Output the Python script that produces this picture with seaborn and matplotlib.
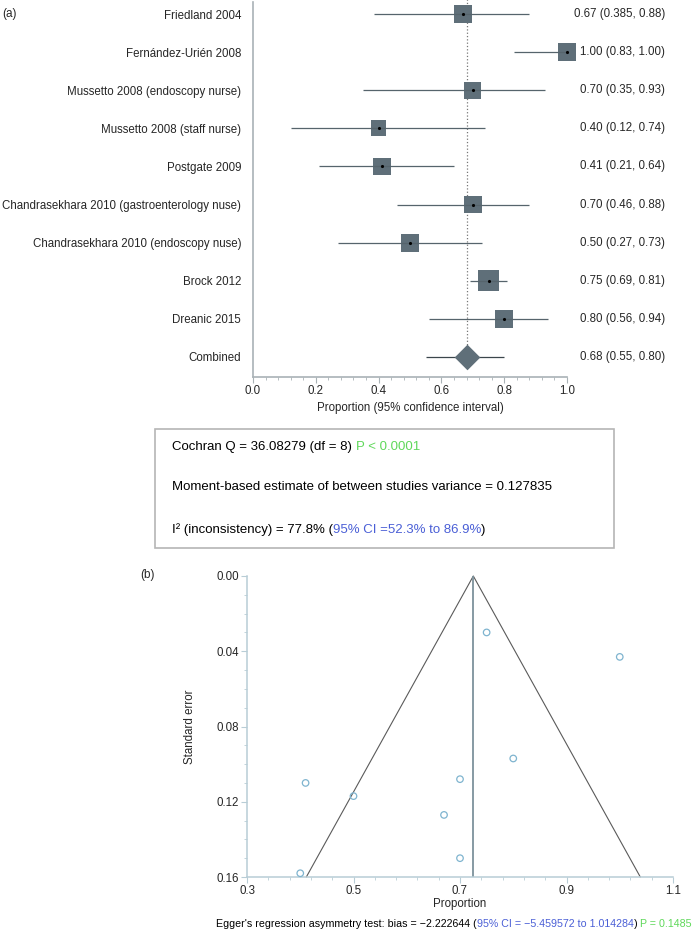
import numpy as np
import pandas as pd
import seaborn as sns
import matplotlib.pyplot as plt
from matplotlib.ticker import MultipleLocator, FixedLocator, FormatStrFormatter
from matplotlib.patches import Rectangle

# ---- data ----
studies = ["Friedland 2004", "Fernández-Urién 2008", "Mussetto 2008 (endoscopy nurse)",
           "Mussetto 2008 (staff nurse)", "Postgate 2009",
           "Chandrasekhara 2010 (gastroenterology nuse)",
           "Chandrasekhara 2010 (endoscopy nuse)", "Brock 2012", "Dreanic 2015"]
estimate = [0.67, 1.00, 0.70, 0.40, 0.41, 0.70, 0.50, 0.75, 0.80]
ci_low = [0.385, 0.83, 0.35, 0.12, 0.21, 0.46, 0.27, 0.69, 0.56]
ci_high = [0.88, 1.00, 0.93, 0.74, 0.64, 0.88, 0.73, 0.81, 0.94]
weight = [11.5, 11.5, 10.2, 9.0, 11.5, 11.5, 11.5, 15.9, 11.5]
combined = [0.68, 0.55, 0.80]

funnel_prop = [0.67, 1.00, 0.70, 0.40, 0.41, 0.70, 0.50, 0.75, 0.80]
funnel_se = [0.127, 0.043, 0.150, 0.158, 0.110, 0.108, 0.117, 0.030, 0.097]
funnel_pooled = 0.725

sns.set_style("white")
plt.rcParams['font.family'] = ['Liberation Sans', 'DejaVu Sans']

fig = plt.figure(figsize=(6.96, 9.31), dpi=100)
W, H = 696, 931


def fmt(v):
    s = f"{v:.3f}"
    return s[:-1] if s.endswith('0') else s


spine_col = '#a9b2b6'
line_col = '#56646c'
box_col = '#5f6f79'

# ---- (a) forest plot ----
ax1 = fig.add_axes([253 / W, 1 - 377 / H, 314 / W, 375 / H])
rows = np.arange(len(studies))
df = pd.DataFrame({'est': estimate, 'row': rows, 'w': weight})

ax1.hlines(rows, ci_low, ci_high, color=line_col, lw=0.9, zorder=4)
ax1.hlines(len(studies), combined[1], combined[2], color='#3b464c', lw=0.9, zorder=2)
ax1.plot([combined[0], combined[0]], [-0.4, len(studies)], ls=':', color='#777777',
         lw=0.9, zorder=1, clip_on=False)
sns.scatterplot(data=df, x='est', y='row', size='w', sizes=(0, 14.3 * 15.9),
                size_norm=(0, 15.9), marker='s', color=box_col, linewidth=0,
                legend=False, ax=ax1, zorder=3, clip_on=False)
ax1.plot(estimate, rows, 'k.', ms=2.5, zorder=5, clip_on=False)
sns.scatterplot(x=[combined[0]], y=[len(studies)], marker='D', s=170, color=box_col,
                linewidth=0, ax=ax1, zorder=3)

for i in rows:
    ax1.text(1.312, i, f"{estimate[i]:.2f} ({fmt(ci_low[i])}, {fmt(ci_high[i])})",
             ha='right', va='center', fontsize=8.3, clip_on=False)
ax1.text(1.312, len(studies), f"{combined[0]:.2f} ({combined[1]:.2f}, {combined[2]:.2f})",
         ha='right', va='center', fontsize=8.3, clip_on=False)

ax1.set_xlim(0, 1)
ax1.set_ylim(9.525, -0.315)
ax1.set_yticks(list(rows) + [len(studies)])
ax1.set_yticklabels(studies + ['Combined'], fontsize=8.3)
ax1.tick_params(axis='y', length=0, pad=8.6)
ax1.xaxis.set_major_locator(MultipleLocator(0.2))
ax1.xaxis.set_minor_locator(MultipleLocator(0.04))
ax1.xaxis.set_major_formatter(FormatStrFormatter('%.1f'))
ax1.tick_params(axis='x', which='major', direction='out', length=4, color=spine_col,
                labelsize=8.3, pad=2, bottom=True)
ax1.tick_params(axis='x', which='minor', direction='out', length=2.5, color=spine_col,
                bottom=True)
for s in ['top', 'right']:
    ax1.spines[s].set_visible(False)
for s in ['left', 'bottom']:
    ax1.spines[s].set_color(spine_col)
    ax1.spines[s].set_linewidth(1.2)
ax1.set_ylabel('')
ax1.set_xlabel('Proportion (95% confidence interval)', fontsize=8.3)
ax1.xaxis.set_label_coords(0.5, (377 - 408) / 375)
ax1.xaxis.label.set_va('center')
fig.text(2 / W, 1 - 14 / H, '(a)', fontsize=8.5, va='center')


def chain(x, y, parts, size):
    t = fig.text(x, y, parts[0][0], color=parts[0][1], fontsize=size, va='center')
    for txt, col in parts[1:]:
        t = ax1.annotate(txt, xy=(1, 0.5), xycoords=t, color=col, fontsize=size,
                         va='center', ha='left', annotation_clip=False)


# ---- heterogeneity box ----
fig.add_artist(Rectangle((155 / W, 1 - 548 / H), 459 / W, 119 / H,
                         transform=fig.transFigure, fill=False, ec='#b5b5b5', lw=1.2))
green = '#5fd85a'
blue = '#4a5fd6'
chain(172 / W, 1 - 447 / H, [("Cochran Q = 36.08279 (df = 8) ", 'black'),
                             ("P < 0.0001", green)], 9.5)
chain(172 / W, 1 - 487 / H, [("Moment-based estimate of between studies variance = 0.127835",
                              'black')], 9.5)
chain(172 / W, 1 - 530 / H, [("I² (inconsistency) = 77.8% (", 'black'),
                             ("95% CI =52.3% to 86.9%", blue), (")", 'black')], 9.5)

# ---- (b) funnel plot ----
ax2 = fig.add_axes([247 / W, 1 - 877 / H, 426 / W, 301 / H])
ymax = 0.16
ax2.plot([funnel_pooled - 1.96 * ymax, funnel_pooled, funnel_pooled + 1.96 * ymax],
         [ymax, 0, ymax], color='#5a5a5a', lw=0.8, clip_on=False)
ax2.plot([funnel_pooled, funnel_pooled], [0, ymax], color='#7d929c', lw=1.3)
sns.scatterplot(x=funnel_prop, y=funnel_se, marker='o', s=22, facecolor='none',
                edgecolor='#7fb4cf', linewidth=0.9, ax=ax2, zorder=3, clip_on=False)
ax2.set_xlim(0.3, 1.1)
ax2.set_ylim(ymax, 0)
ax2.set_xticks([0.3, 0.5, 0.7, 0.9, 1.1])
ax2.xaxis.set_minor_locator(FixedLocator(np.arange(0.3, 1.1001, 0.04)))
ax2.set_yticks([0.0, 0.04, 0.08, 0.12, 0.16])
ax2.yaxis.set_minor_locator(MultipleLocator(0.01))
ax2.xaxis.set_major_formatter(FormatStrFormatter('%.1f'))
ax2.yaxis.set_major_formatter(FormatStrFormatter('%.2f'))
fcol = '#b8cdd6'
ax2.tick_params(which='major', direction='out', length=4, color=fcol, labelsize=8.3,
                pad=2, left=True, bottom=True)
ax2.tick_params(which='minor', direction='out', length=2.5, color=fcol,
                left=True, bottom=True)
for s in ['top', 'right']:
    ax2.spines[s].set_visible(False)
for s in ['left', 'bottom']:
    ax2.spines[s].set_color(fcol)
    ax2.spines[s].set_linewidth(1.1)
ax2.set_xlabel('Proportion', fontsize=8.3)
ax2.set_ylabel('Standard error', fontsize=8.3)
ax2.xaxis.set_label_coords(0.5, (877 - 904) / 301)
ax2.xaxis.label.set_va('center')
ax2.yaxis.set_label_coords((190 - 247) / 426, 0.5)
ax2.yaxis.label.set_va('center')
fig.text(140 / W, 1 - 575 / H, '(b)', fontsize=8.5, va='center')

chain(216 / W, 1 - 924 / H,
      [("Egger's regression asymmetry test: bias = \u22122.222644 (", 'black'),
       ("95% CI = \u22125.459572 to 1.014284", blue), (") ", 'black'),
       ("P = 0.1485", green)], 7.7)

fig.savefig('out.png', dpi=100)
